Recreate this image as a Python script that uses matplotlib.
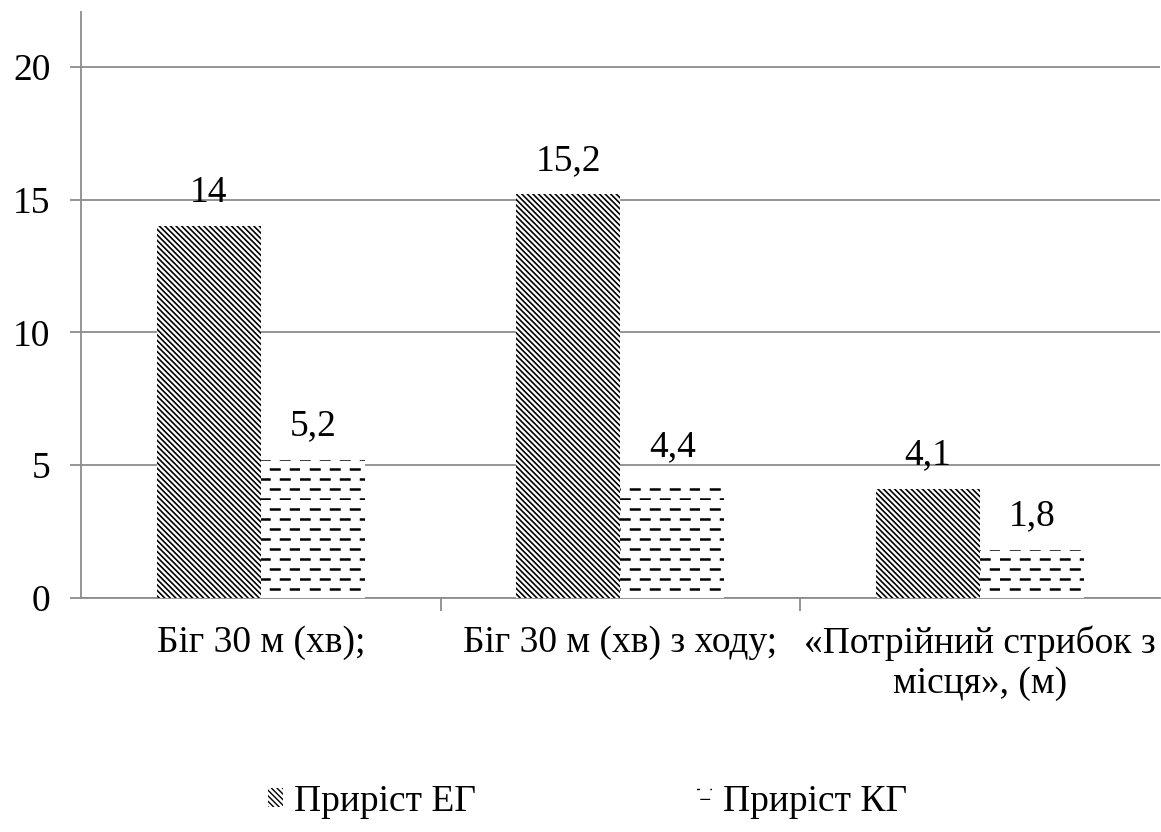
import numpy as np
import matplotlib
matplotlib.use("Agg")
import matplotlib.pyplot as plt
import matplotlib.hatch as mhatch
from matplotlib.path import Path

# --- data -------------------------------------------------------------
categories = ["Біг 30 м (хв);", "Біг 30 м (хв) з ходу;",
              "«Потрійний стрибок з\nмісця», (м)"]
series_names = ["Приріст ЕГ", "Приріст КГ"]
eg_values = [14, 15.2, 4.1]
kg_values = [5.2, 4.4, 1.8]
eg_labels = ["14", "15,2", "4,1"]
kg_labels = ["5,2", "4,4", "1,8"]
y_ticks = [0, 5, 10, 15, 20]


# Dashed-row hatch used for the "-" pattern (staggered short dashes)
class DashedRowsHatch(mhatch.HatchPatternBase):
    rows = 10
    dashes = 5

    def __init__(self, hatch, density):
        n = hatch.count('-')
        self.active = n > 0
        self.num_vertices = self.rows * self.dashes * 2 if self.active else 0

    def set_vertices_and_codes(self, vertices, codes):
        k = 0
        period = 1.0 / self.dashes
        for i in range(self.rows):
            y = (i + 0.05) / self.rows
            off = (i % 2) * period / 2
            for j in range(self.dashes):
                x0 = off + j * period + 0.01
                vertices[k] = (x0, y)
                vertices[k + 1] = (x0 + 0.085, y)
                k += 2
        codes[0::2] = Path.MOVETO
        codes[1::2] = Path.LINETO


mhatch._hatch_types = [DashedRowsHatch if t is mhatch.HorizontalHatch else t
                       for t in mhatch._hatch_types]

plt.rcParams['font.family'] = ['Liberation Serif', 'DejaVu Serif']
FS = 27

fig = plt.figure(figsize=(11.61, 8.32), dpi=100)
ax = fig.add_axes([0.0698, 0.2813, 0.929, 0.7043])

grid_color = '#8c8c8c'
x = np.arange(len(categories))
width = 0.289

with plt.rc_context({'hatch.linewidth': 1.2}):
    b1 = ax.bar(x - width / 2, eg_values, width, color='white',
                edgecolor='black', linewidth=0, hatch='\\' * 6,
                label=series_names[0], zorder=3)
with plt.rc_context({'hatch.linewidth': 1.8}):
    b2 = ax.bar(x + width / 2, kg_values, width, color='white',
                edgecolor='black', linewidth=0, hatch='-',
                label=series_names[1], zorder=3)

for bars, labels in ((b1, eg_labels), (b2, kg_labels)):
    for rect, txt in zip(bars, labels):
        ax.annotate(txt, (rect.get_x() + rect.get_width() / 2, rect.get_height()),
                    xytext=(0, 12), textcoords='offset points',
                    ha='center', va='bottom', fontsize=FS)

ax.set_xlim(-0.5, 2.5)
ax.set_ylim(0, 22.07)
ax.set_yticks(y_ticks)
ax.set_yticklabels([str(v) for v in y_ticks])
ax.yaxis.grid(True, color=grid_color, linewidth=1.3, zorder=0)
ax.set_axisbelow(True)

ax.set_xticks(x)
ax.set_xticklabels(categories, fontsize=FS, linespacing=1.2)
ax.set_xticks([0.5, 1.5], minor=True)
ax.tick_params(axis='x', which='major', length=0, pad=20)
ax.tick_params(axis='x', which='minor', length=9, width=1.3, color=grid_color)
ax.tick_params(axis='y', length=8, width=1.3, color=grid_color, pad=14,
               labelsize=FS)

for s in ('top', 'right'):
    ax.spines[s].set_visible(False)
ax.spines['left'].set_color(grid_color)
ax.spines['left'].set_linewidth(1.3)
ax.spines['bottom'].set_color(grid_color)
ax.spines['bottom'].set_linewidth(1.3)

fig.legend(handles=[b1, b2], loc='center', bbox_to_anchor=(0.506, 0.036),
           ncol=2, frameon=False, fontsize=FS, handlelength=0.4,
           handleheight=0.4, handletextpad=0.3, columnspacing=5.9)

fig.savefig('out.png', dpi=100)
